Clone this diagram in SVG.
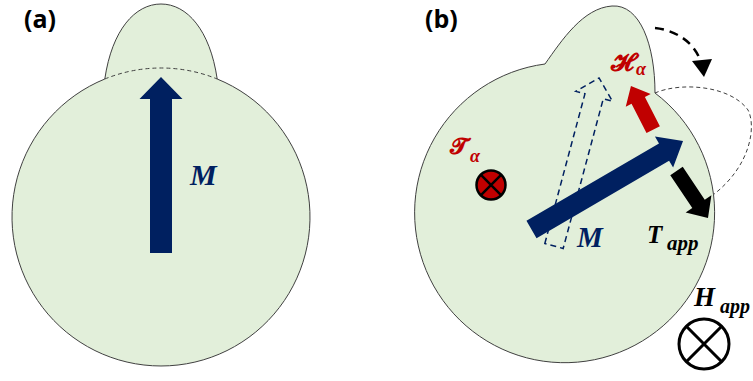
<svg xmlns="http://www.w3.org/2000/svg" width="753" height="381" viewBox="0 0 753 381">
<style>
.body{fill:#E2EFDA;stroke:#404040;stroke-width:1}
.thin{fill:none;stroke:#404040;stroke-width:1;stroke-dasharray:4 3}
.navy{fill:#002060}
.red{fill:#C00000}
.blk{fill:#000}
.lbl{font-family:"Open Sans","Liberation Sans",sans-serif;font-weight:700;font-size:25px;fill:#000}
.math{font-family:"Liberation Serif","DejaVu Serif",serif;font-weight:700;font-style:italic}
.scr{font-family:"DejaVu Serif","DejaVu Sans","Liberation Serif",serif;font-weight:700}
</style>
<rect width="753" height="381" fill="#fff"/>
<g id="panel-a">
  <text class="lbl" x="24" y="28">(a)</text>
  <g id="cell-a">
    <path class="body" d="M104.8,79 C112,30 135,4 161,4 C187,4 210,30 217.2,79 A149,149 0 1 1 104.8,79 Z"/>
    <path class="thin" d="M104.8,79 A149,149 0 0 1 217.2,79"/>
  </g>
  <g id="M-a">
    <path class="navy" transform="translate(161,253)" d="M-11,0 V-154 H-21.5 L0,-176 L21.5,-154 H11 V0 Z"/>
    <text class="math" x="190" y="185" font-size="30" fill="#002060">M</text>
  </g>
</g>
<g id="panel-b">
  <text class="lbl" x="425" y="28">(b)</text>
  <g id="cell-b">
    <path class="thin" d="M655,93 C680,82 730,85 748,110 C756,125 752,165 713,195"/>
    <path class="body" d="M545,64 C562,40 583,8 612,6 C640,4 655,45 655,93 A150,150 0 1 1 545,64 Z"/>
  </g>
  <g id="connectors">
    <path d="M655,28 C675,30 694,42 700,60" fill="none" stroke="#000" stroke-width="2.5" stroke-dasharray="9 6"/>
    <polygon class="blk" points="692,61 712,59 704,77"/>
  </g>
  <g id="M-ghost">
    <path transform="translate(554,246) rotate(15)" d="M-9.5,0 V-155 H-19 L0,-174 L19,-155 H9.5 V0 Z" fill="none" stroke="#002060" stroke-width="1.5" stroke-dasharray="6 4"/>
  </g>
  <g id="M-b">
    <path class="navy" transform="translate(531.5,229.5) rotate(59.7)" d="M-10,0 V-153.5 H-18 L0,-175.5 L18,-153.5 H10 V0 Z"/>
    <text class="math" x="577" y="247" font-size="29" fill="#002060">M</text>
  </g>
  <g id="H-alpha">
    <path class="red" transform="translate(653.2,129.7) rotate(-27)" d="M-7.5,0 V-33 H-14 L0,-49 L14,-33 H7.5 V0 Z"/>
    <text class="scr" x="611" y="71" font-size="25" fill="#C00000">𝓗</text>
    <text class="math" x="636" y="75" font-size="18" fill="#C00000">α</text>
  </g>
  <g id="T-app">
    <path class="blk" transform="translate(676.5,171) rotate(146.2)" d="M-7.5,0 V-39.6 H-15.5 L0,-56.6 L15.5,-39.6 H7.5 V0 Z"/>
    <text class="math" x="647" y="243" font-size="25" fill="#000">T</text>
    <text class="math" x="667" y="250" font-size="21" fill="#000">app</text>
  </g>
  <g id="T-alpha">
    <text class="scr" x="450" y="154" font-size="23" fill="#C00000">𝓣</text>
    <text class="math" x="470" y="162" font-size="18" fill="#C00000">α</text>
    <circle cx="491" cy="185" r="14.5" fill="#C00000" stroke="#000" stroke-width="2.5"/>
    <path d="M480.7,174.7 L501.3,195.3 M501.3,174.7 L480.7,195.3" stroke="#000" stroke-width="2.5"/>
  </g>
  <g id="H-app">
    <text class="math" x="694" y="306" font-size="27" fill="#000">H</text>
    <text class="math" x="720" y="313" font-size="20" fill="#000">app</text>
    <circle cx="704" cy="344" r="25" fill="none" stroke="#000" stroke-width="3"/>
    <path d="M686.3,326.3 L721.7,361.7 M721.7,326.3 L686.3,361.7" stroke="#000" stroke-width="3"/>
  </g>
</g>
</svg>
